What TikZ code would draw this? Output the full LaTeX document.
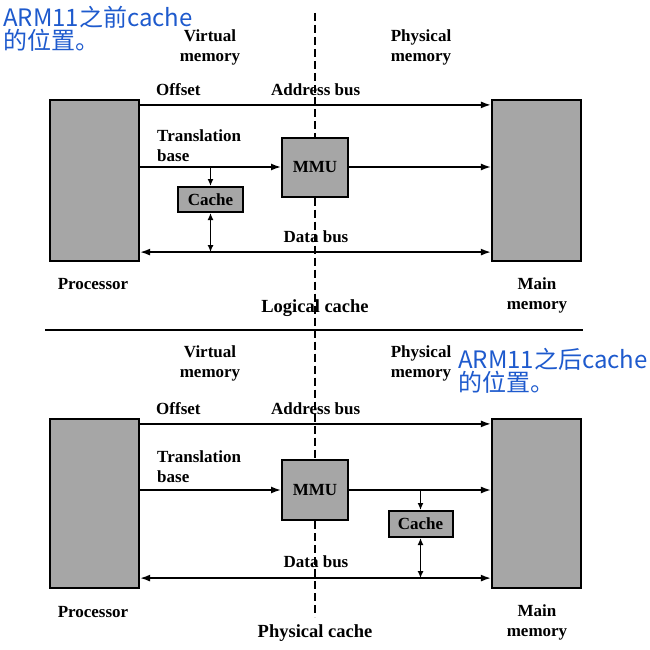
\documentclass[tikz,border=0pt]{standalone}
\usepackage{fontspec}
\setmainfont{Liberation Serif}
\newfontfamily\cjk{Noto Sans CJK SC}
\usetikzlibrary{arrows.meta}
\definecolor{boxgray}{RGB}{166,166,166}
\definecolor{noteblue}{RGB}{30,90,205}
\tikzset{
  bigbox/.style={draw=black,line width=2.2pt,fill=boxgray,inner sep=0pt,minimum width=89pt},
  mmubox/.style={draw=black,line width=2pt,fill=boxgray,inner sep=0pt,minimum width=66pt,minimum height=59pt,font=\fontsize{17}{17}\selectfont\bfseries},
  cachebox/.style={draw=black,line width=2pt,fill=boxgray,inner sep=0pt,minimum width=65pt,minimum height=25pt,font=\fontsize{17}{17}\selectfont\bfseries},
  lbl/.style={inner sep=0pt,font=\fontsize{17}{20}\selectfont\bfseries,align=center},
  lbll/.style={inner sep=0pt,font=\fontsize{17}{20}\selectfont\bfseries,align=left,anchor=west},
  ttl/.style={inner sep=0pt,font=\fontsize{18.5}{20}\selectfont\bfseries},
  note/.style={inner sep=0pt,anchor=base west,text=noteblue,font=\cjk\fontsize{24}{24}\selectfont},
  bus/.style={line width=1.6pt},
  arr/.style={bus,-{Latex[length=10pt,width=7pt]}},
  darr/.style={bus,{Latex[length=10pt,width=7pt]}-{Latex[length=10pt,width=7pt]}},
  sarr/.style={bus,-{Latex[length=7pt,width=6pt]}},
  sdarr/.style={bus,{Latex[length=7pt,width=6pt]}-{Latex[length=7pt,width=6pt]}},
  divline/.style={line width=2.2pt,dash pattern=on 8pt off 4pt},
}
\begin{document}
\begin{tikzpicture}[x=1pt,y=-1pt]
\useasboundingbox (0,0) rectangle (650,650);
% ---------- top: logical cache ----------
\node[note] (n1a) at (3,27) {ARM11之前cache};
\node[note] (n1b) at (3,50) {的位置。};
\node[lbl] (vm1) at (210,47) {Virtual\\memory};
\node[lbl] (pm1) at (421,47) {Physical\\memory};
\node[lbll] (off1) at (156,90) {Offset};
\node[lbll] (ab1) at (271,90) {Address bus};
\node[lbll] (tb1) at (157,146) {Translation\\base};

\node[bigbox,minimum height=161pt] (proc1) at (94.5,180.5) {};
\node[bigbox,minimum height=161pt] (mem1) at (536.5,180.5) {};
\node[mmubox] (mmu1) at (315,167) {MMU};
\node[cachebox] (cache1) at (210.5,199.5) {Cache};

\coordinate (dtop) at (315,13);
\coordinate (dbot) at (315,617);
\draw[divline] (dtop) -- (mmu1.north);

\draw[arr] ([yshift=-6pt]proc1.north east) -- ([yshift=-6pt]mem1.north west);
\draw[arr] (proc1.east |- mmu1.west) -- (mmu1.west);
\draw[arr] (mmu1.east) -- (mem1.west |- mmu1.east);
\coordinate (db1) at ([yshift=10pt]proc1.south east);
\draw[darr] (db1) -- (db1 -| mem1.west);
\draw[sarr] (cache1.north |- mmu1.west) -- (cache1.north);
\draw[sdarr] (cache1.south) -- (cache1.south |- db1);

\node[lbl] (dbl1) at (316,237) {Data bus};
\node[lbl] (pl1) at (93,284) {Processor};
\node[lbl] (ml1) at (537,295) {Main\\memory};
\node[ttl] (lc) at (315,308) {Logical cache};

\coordinate (sepl) at (45,330);
\coordinate (sepr) at (583,330);
\draw[line width=2.2pt] (sepl) -- (sepr);

% ---------- bottom: physical cache ----------
\node[lbl] (vm2) at (210,363) {Virtual\\memory};
\node[lbl] (pm2) at (421,363) {Physical\\memory};
\node[note] (n2a) at (458,368) {ARM11之后cache};
\node[note] (n2b) at (458,391) {的位置。};
\node[lbll] (off2) at (156,409) {Offset};
\node[lbll] (ab2) at (271,409) {Address bus};
\node[lbll] (tb2) at (157,467) {Translation\\base};

\node[bigbox,minimum height=169pt] (proc2) at (94.5,503.5) {};
\node[bigbox,minimum height=169pt] (mem2) at (536.5,503.5) {};
\node[mmubox,minimum height=60pt] (mmu2) at (315,490) {MMU};
\node[cachebox,minimum width=64pt,minimum height=26pt] (cache2) at (420.5,524) {Cache};

\draw[divline] (mmu1.south) -- (mmu2.north);
\draw[divline] (mmu2.south) -- (dbot);

\draw[arr] ([yshift=-6pt]proc2.north east) -- ([yshift=-6pt]mem2.north west);
\draw[arr] (proc2.east |- mmu2.west) -- (mmu2.west);
\draw[arr] (mmu2.east) -- (mem2.west |- mmu2.east);
\coordinate (db2) at ([yshift=11pt]proc2.south east);
\draw[darr] (db2) -- (db2 -| mem2.west);
\draw[sarr] (cache2.north |- mmu2.east) -- (cache2.north);
\draw[sdarr] (cache2.south) -- (cache2.south |- db2);

\node[lbl] (dbl2) at (316,562) {Data bus};
\node[lbl] (pl2) at (93,612) {Processor};
\node[lbl] (ml2) at (537,622) {Main\\memory};
\node[ttl] (pc) at (315,633) {Physical cache};
\end{tikzpicture}
\end{document}
